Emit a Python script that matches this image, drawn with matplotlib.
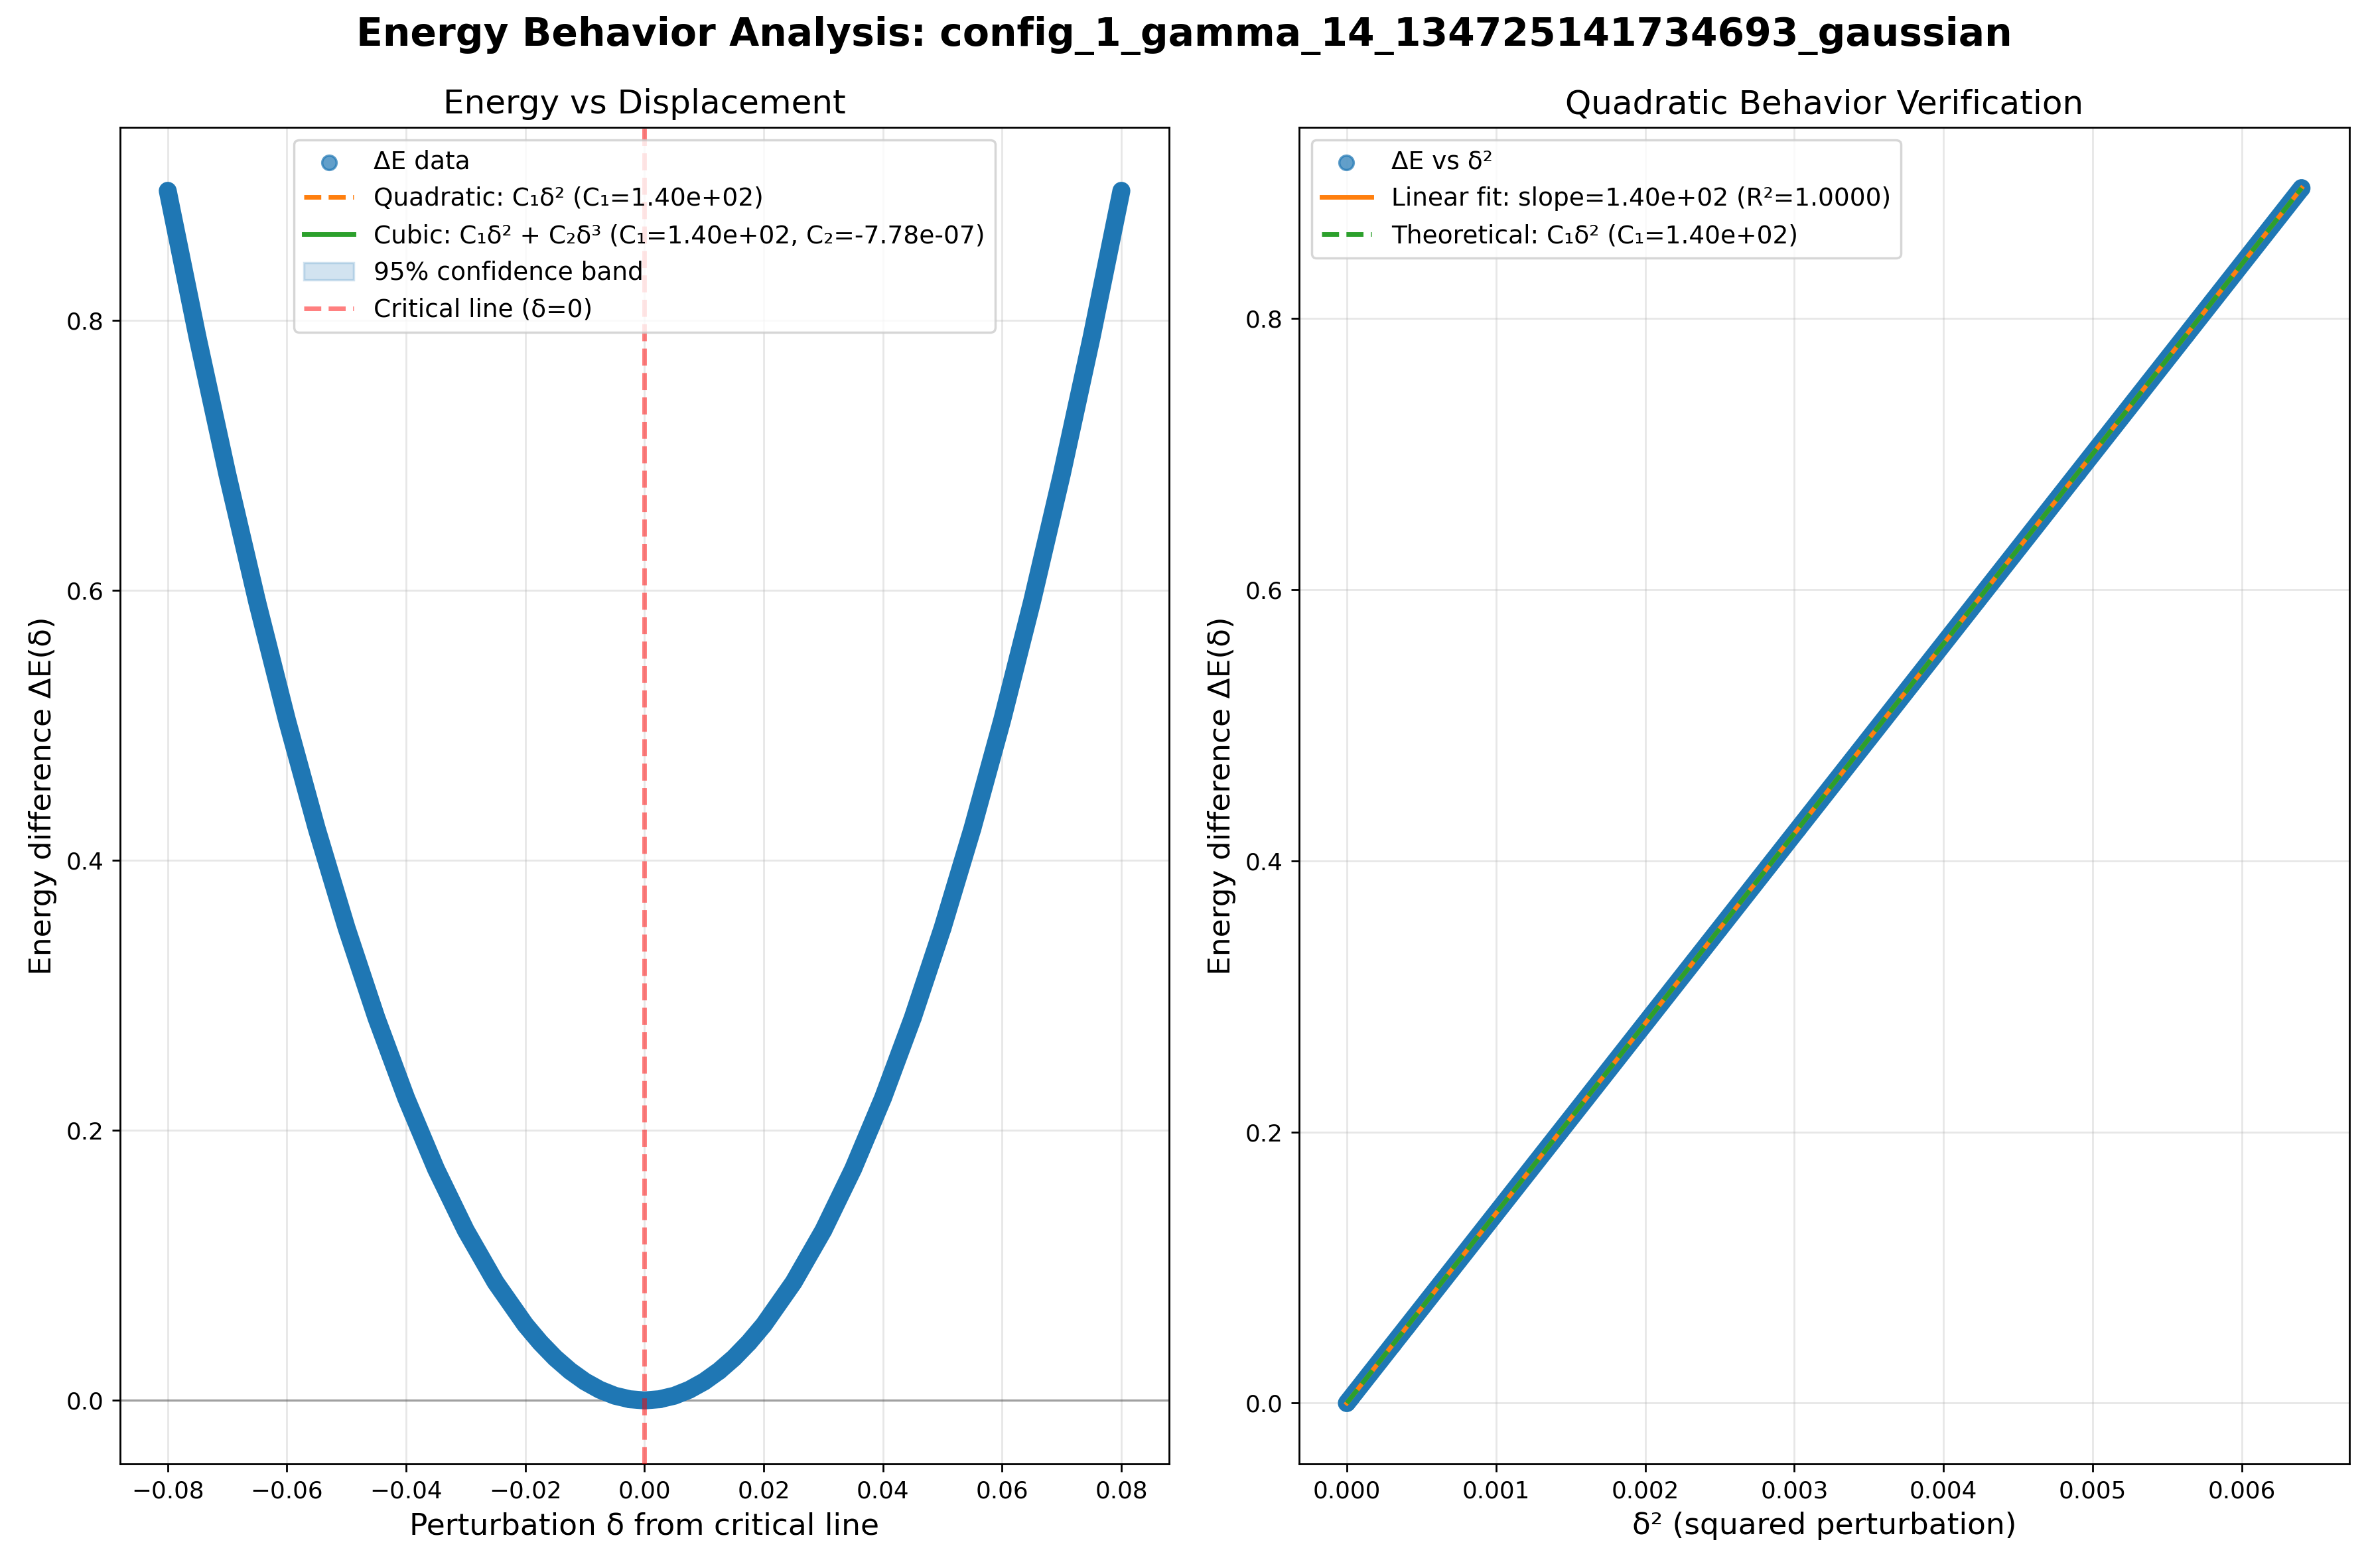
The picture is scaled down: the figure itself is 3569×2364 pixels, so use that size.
import numpy as np
import matplotlib
matplotlib.use("Agg")
import matplotlib.pyplot as plt

# perturbation delta and energy difference
delta = [-0.080, -0.075, -0.070, -0.065, -0.060, -0.055, -0.050, -0.045,
         -0.040, -0.035, -0.030, -0.025, -0.020, -0.0175, -0.015, -0.0125,
         -0.010, -0.0075, -0.005, -0.0025,
         0.000, 0.0025, 0.005, 0.0075, 0.010, 0.0125, 0.015, 0.0175,
         0.020, 0.025, 0.030, 0.035, 0.040, 0.045, 0.050, 0.055,
         0.060, 0.065, 0.070, 0.075, 0.080]
energy = [0.896, 0.7875, 0.686, 0.5915, 0.504, 0.4235, 0.350, 0.2835,
          0.224, 0.1715, 0.126, 0.0875, 0.056, 0.0429, 0.0315, 0.0219,
          0.014, 0.0079, 0.0035, 0.0009,
          0.000, 0.0009, 0.0035, 0.0079, 0.014, 0.0219, 0.0315, 0.0429,
          0.056, 0.0875, 0.126, 0.1715, 0.224, 0.2835, 0.350, 0.4235,
          0.504, 0.5915, 0.686, 0.7875, 0.896]

# fitted coefficients shown in the legends
C1 = 1.40e2
C2 = -7.78e-07
slope = 1.40e2
r2 = 1.0000
ci_half = 0.002

delta = np.array(delta)
energy = np.array(energy)

plt.rcParams['xtick.labelsize'] = 10.3
plt.rcParams['ytick.labelsize'] = 10.3

fig = plt.figure(figsize=(3569 / 250, 2364 / 250), dpi=250)
ax1 = fig.add_axes([0.0507, 0.0664, 0.443, 0.8524])
ax2 = fig.add_axes([0.5486, 0.0664, 0.4435, 0.8524])

blue = "#1f77b4"
band_lw = 7.8
msize = 39

# left: energy vs displacement
quad = C1 * delta ** 2
cubic = C1 * delta ** 2 + C2 * delta ** 3
ax1.plot(delta, quad, "--", color="#ff7f0e", lw=2,
         label="Quadratic: C₁δ² (C₁=1.40e+02)")
ax1.plot(delta, cubic, "-", color="#2ca02c", lw=2,
         label="Cubic: C₁δ² + C₂δ³ (C₁=1.40e+02, C₂=-7.78e-07)")
ax1.fill_between(delta, quad - ci_half, quad + ci_half, color=blue, alpha=0.2,
                 label="95% confidence band")
ax1.plot(delta, energy, "-", color=blue, lw=band_lw, solid_capstyle="round",
         solid_joinstyle="round", zorder=3)
ax1.scatter(delta, energy, s=msize, color=blue, alpha=0.7, zorder=4, label="ΔE data")
ax1.axhline(0, color="black", alpha=0.3, lw=1)
ax1.axvline(0, color="red", ls="--", alpha=0.5, lw=2, zorder=5,
            label="Critical line (δ=0)")
ax1.set_xlabel("Perturbation δ from critical line", fontsize=13.1)
ax1.set_ylabel("Energy difference ΔE(δ)", fontsize=13.1)
ax1.set_title("Energy vs Displacement", fontsize=14.4)
ax1.grid(True, alpha=0.3)
h, l = ax1.get_legend_handles_labels()
order = [3, 0, 1, 2, 4]
ax1.legend([h[i] for i in order], [l[i] for i in order], loc="upper center",
           fontsize=10.8)

# right: quadratic verification
d2 = delta[20:] ** 2
e2 = energy[20:]
ax2.plot(d2, e2, "-", color=blue, lw=band_lw, solid_capstyle="round",
         solid_joinstyle="round", zorder=2)
ax2.scatter(d2, e2, s=msize, color=blue, alpha=0.7, zorder=3, label="ΔE vs δ²")
ax2.plot(d2, slope * d2, "-", color="#ff7f0e", lw=2, zorder=4,
         label=f"Linear fit: slope=1.40e+02 (R²={r2:.4f})")
ax2.plot(d2, C1 * d2, "--", color="#2ca02c", lw=2, zorder=5,
         label="Theoretical: C₁δ² (C₁=1.40e+02)")
ax2.set_xlabel("δ² (squared perturbation)", fontsize=13.1)
ax2.set_ylabel("Energy difference ΔE(δ)", fontsize=13.1)
ax2.set_title("Quadratic Behavior Verification", fontsize=14.4)
ax2.grid(True, alpha=0.3)
ax2.legend(loc="upper left", fontsize=10.8)

fig.suptitle("Energy Behavior Analysis: config_1_gamma_14_134725141734693_gaussian",
             fontsize=16.8, fontweight="bold", y=0.99)

fig.savefig("out.png", dpi=250)
